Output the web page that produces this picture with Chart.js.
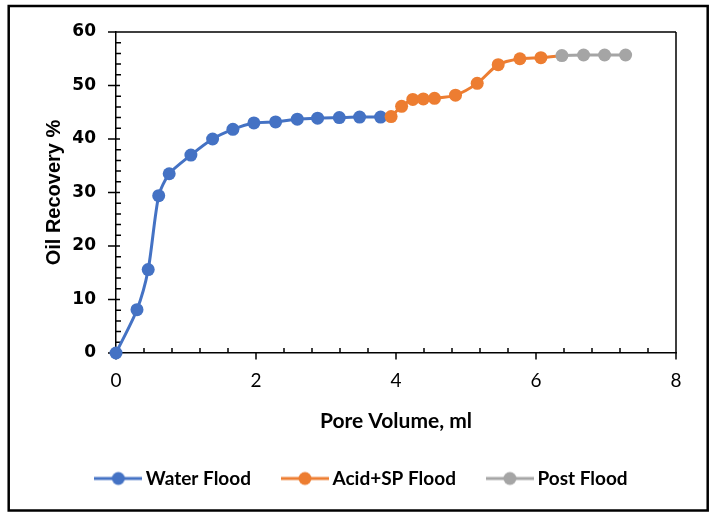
<!DOCTYPE html>
<html><head><meta charset="utf-8">
<script src="https://cdn.jsdelivr.net/npm/chart.js@4/dist/chart.umd.min.js"></script>
<style>html,body{margin:0;padding:0;background:#fff}</style>
</head><body>
<canvas id="c" width="716" height="519"></canvas>
<script>
// ---- data ----
const seriesNames = ['Water Flood', 'Acid+SP Flood', 'Post Flood'];
const waterPV  = [0, 0.30, 0.46, 0.61, 0.76, 1.07, 1.38, 1.67, 1.97, 2.28, 2.59, 2.88, 3.19, 3.48, 3.78];
const waterRec = [0, 8.1, 15.6, 29.4, 33.5, 37.0, 40.0, 41.8, 43.0, 43.2, 43.7, 43.9, 44.0, 44.1, 44.1];
const acidPV   = [3.93, 4.08, 4.24, 4.39, 4.55, 4.85, 5.16, 5.46, 5.77, 6.07];
const acidRec  = [44.2, 46.1, 47.4, 47.5, 47.6, 48.2, 50.4, 53.9, 55.0, 55.2];
const postPV   = [6.37, 6.68, 6.98, 7.28];
const postRec  = [55.6, 55.7, 55.7, 55.7];
const xTickValues = [0, 2, 4, 6, 8];
const yTickValues = [0, 10, 20, 30, 40, 50, 60];
const colors = ['#4472C4', '#ED7D31', '#A5A5A5'];

function pts(xs, ys) { return xs.map((x, i) => ({x: x, y: ys[i]})); }
// each series line runs on to the first point of the next series (as in the source)
const waterData = pts(waterPV, waterRec).concat([{x: acidPV[0], y: acidRec[0]}]);
const acidData  = pts(acidPV, acidRec).concat([{x: postPV[0], y: postRec[0]}]);
const postData  = pts(postPV, postRec);

function legendIcon(color) {
  const cv = document.createElement('canvas');
  cv.width = 48; cv.height = 16;
  const g = cv.getContext('2d');
  g.strokeStyle = color; g.lineWidth = 3;
  g.beginPath(); g.moveTo(0, 8); g.lineTo(48, 8); g.stroke();
  g.fillStyle = color;
  g.beginPath(); g.arc(24, 8, 6.5, 0, Math.PI * 2); g.fill();
  return cv;
}
const icons = colors.map(legendIcon);

function mkSet(i, data, extraLast) {
  return {
    label: seriesNames[i], data: data,
    borderColor: colors[i], backgroundColor: colors[i],
    borderWidth: 3, tension: 0.25, clip: false,
    pointRadius: ctx => (extraLast && ctx.dataIndex === data.length - 1) ? 0 : 6.5,
    pointHoverRadius: 6.5, pointBorderWidth: 0,
    order: 3 - i
  };
}

Chart.defaults.color = '#000';

const boxPlugin = {
  id: 'boxTicks',
  beforeDraw(chart) {
    const c = chart.ctx;
    c.save(); c.fillStyle = '#fff'; c.fillRect(0, 0, chart.width, chart.height);
    c.strokeStyle = '#000'; c.lineWidth = 2.5;
    c.strokeRect(8.7, 6, 699, 504.5);
    c.restore();
  },
  beforeDatasetsDraw(chart) {
    const c = chart.ctx, a = chart.chartArea, xs = chart.scales.x, ys = chart.scales.y;
    c.save(); c.strokeStyle = '#000'; c.lineWidth = 1.5;
    c.beginPath();
    c.moveTo(a.left - 8, a.top); c.lineTo(a.right, a.top);
    c.moveTo(a.right, a.top); c.lineTo(a.right, a.bottom + 6.5);
    for (let v = 0; v <= 60; v += 2) {
      const p = ys.getPixelForValue(v);
      if (v % 10 === 0) { c.moveTo(a.left - 8, p); c.lineTo(a.left + 4, p); }
      else { c.moveTo(a.left, p); c.lineTo(a.left + 5, p); }
    }
    for (let k = 0; k <= 20; k++) {
      const v = k * 0.4, p = xs.getPixelForValue(v);
      if (k % 5 === 0) { c.moveTo(p, a.bottom - 1); c.lineTo(p, a.bottom + 6.5); }
      else { c.moveTo(p, a.bottom - 5); c.lineTo(p, a.bottom); }
    }
    c.stroke(); c.restore();
  }
};

new Chart(document.getElementById('c'), {
  type: 'line',
  data: { datasets: [mkSet(0, waterData, true), mkSet(1, acidData, true), mkSet(2, postData, false)] },
  options: {
    responsive: false, animation: false,
    layout: { padding: { left: 52, right: 40, top: 32, bottom: 21 } },
    scales: {
      x: {
        type: 'linear', min: 0, max: 8,
        afterBuildTicks: s => { s.ticks = xTickValues.map(v => ({value: v})); },
        ticks: { font: { family: 'Lato', size: 19 }, color: '#000', padding: 16 },
        grid: { display: false, drawTicks: false },
        border: { display: true, color: '#000', width: 1.5 },
        title: { display: true, text: 'Pore Volume, ml', color: '#000',
                 font: { family: 'Lato', size: 21, weight: 'bold' }, padding: { top: 0, bottom: -1 } },
        afterFit: s => { s.height = 80; }
      },
      y: {
        type: 'linear', min: 0, max: 60,
        afterBuildTicks: s => { s.ticks = yTickValues.map(v => ({value: v})); },
        ticks: { font: { family: 'DejaVu Sans', size: 17, weight: 'bold' }, color: '#000', padding: 20 },
        grid: { display: false, drawTicks: false },
        border: { display: true, color: '#000', width: 1.5 },
        title: { display: true, text: 'Oil Recovery %', color: '#000',
                 font: { family: 'Liberation Sans', size: 20, weight: 'bold' }, padding: { top: -10, bottom: 0 } },
        afterFit: s => { s.width = 64; }
      }
    },
    plugins: {
      tooltip: { enabled: false },
      legend: {
        position: 'bottom',
        labels: {
          usePointStyle: true, pointStyleWidth: 36, padding: 36,
          font: { family: 'Lato', size: 19, weight: 'bold' }, color: '#000',
          generateLabels: chart => chart.data.datasets.map((d, i) => ({
            text: d.label, pointStyle: icons[i], datasetIndex: i,
            fillStyle: colors[i], strokeStyle: colors[i], lineWidth: 0, hidden: false, fontColor: '#000'
          }))
        }
      }
    }
  },
  plugins: [boxPlugin]
});
</script>
</body></html>
